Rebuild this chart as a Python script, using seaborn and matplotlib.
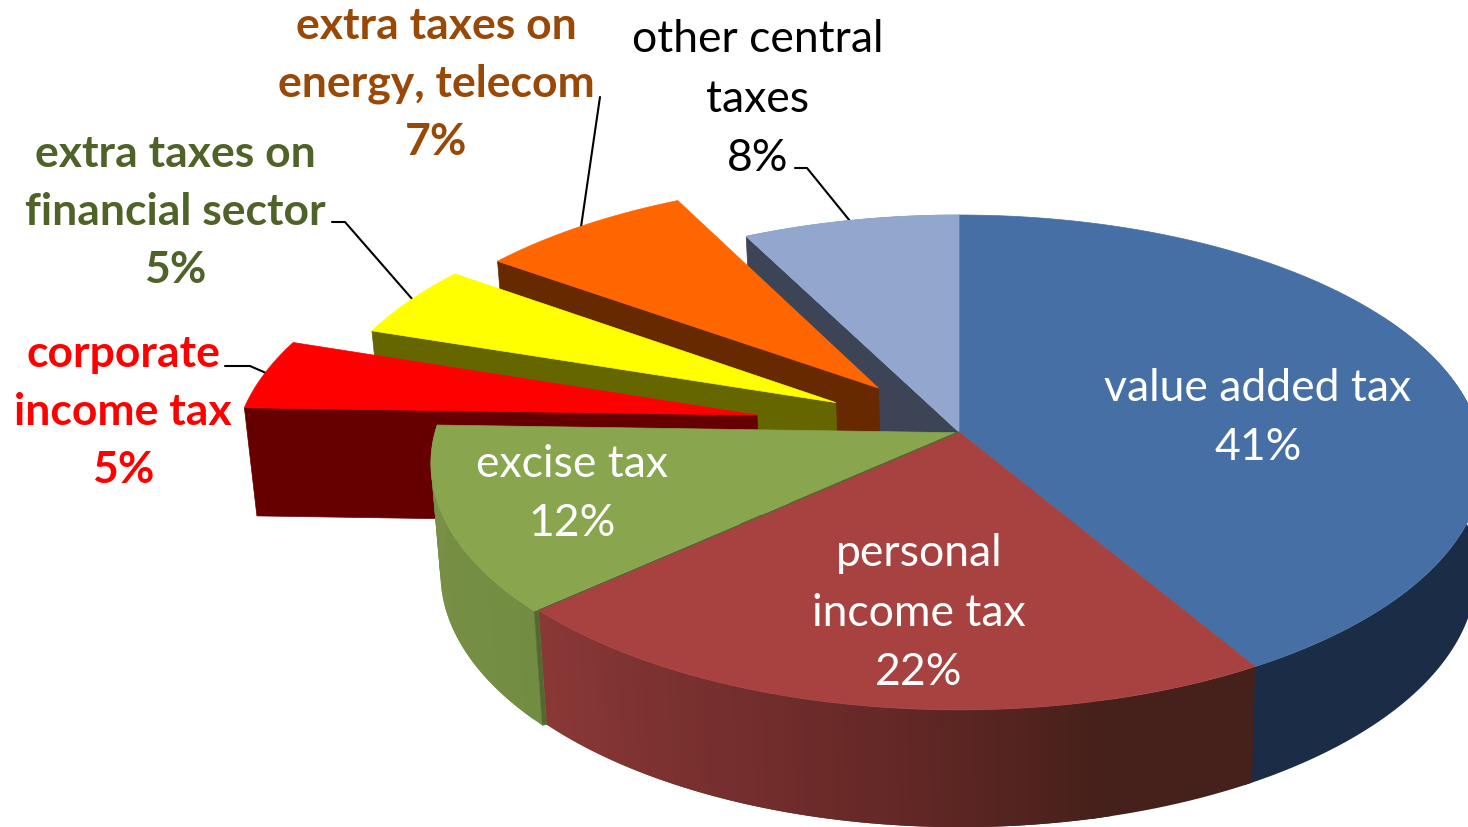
import numpy as np
import seaborn as sns
import matplotlib.pyplot as plt

# shares, clockwise from 12 o'clock
categories = ['value added tax', 'personal\nincome tax', 'excise tax', 'corporate\nincome tax',
              'extra taxes on\nfinancial sector', 'extra taxes on\nenergy, telecom', 'other central\ntaxes']
shares = [41.5, 21.8, 12.2, 4.6, 4.8, 7.6, 7.5]
pct_labels = ['41%', '22%', '12%', '5%', '5%', '7%', '8%']
explode = [0, 0, 0.008, 0.398, 0.27, 0.243, 0]

top_colors = ['#4670A5', '#A74240', '#89A54E', '#FF0000', '#FFFF00', '#FF6600', '#93A6CE']
face_colors = ['#1B2D46', '#46201A', '#768F46', '#660000', '#666600', '#662900', '#3C4455']
text_colors = ['white', 'white', 'white', '#FF0000', '#4F6228', '#984807', 'black']
text_bold = [False, False, False, True, True, True, False]
text_pos = [(1258, 418), (919, 613), (572, 494), (123, 412), (175, 212), (436, 84), (758, 99)]

leaders = [([795, 807, 850], [168, 168, 221]),
           ([600, 581], [97, 227]),
           ([332, 345, 413], [222, 222, 300]),
           ([225, 250, 266], [366, 366, 373])]

# pie placement in pixels
CX, CY, RX, RY, K = 959, 432, 520, 243.7, 0.123
XV, SHRINK, D0, D1 = 1058, 0.0154, 96, 0.03

sns.set_theme(style='white')
plt.rcParams['font.family'] = ['Lato', 'DejaVu Sans']


def project(u, v):
    w = 1 - K * v
    return CX + RX * u / w, CY + RY * v / w


def drop(x, y):
    return x + (XV - x) * SHRINK, y + D0 + D1 * y


def rim(a0, a1, off=(0, 0), n=120):
    t = np.radians(np.linspace(a0, a1, n))
    return project(np.cos(t) + off[0], np.sin(t) + off[1])


def wall(ax, a0, a1, colors, z, off=(0, 0)):
    # outer wall as strips that overlap the next one, so no seams show
    edges = np.linspace(a0, a1, len(colors) + 1)
    n = max(4, 120 // len(colors))
    for i, c in enumerate(colors):
        x, y = rim(edges[i], edges[min(i + 2, len(colors))], off, n=n)
        bx, by = drop(x, y)
        ax.fill(np.r_[x, bx[::-1]], np.r_[y, by[::-1]], color=c, lw=0, zorder=z)


def offset(i):
    return explode[i] * np.cos(mid[i]), explode[i] * np.sin(mid[i])


edges = -90 + 3.6 * np.r_[0, np.cumsum(shares)]
mid = np.radians((edges[:-1] + edges[1:]) / 2)

fig = plt.figure(figsize=(14.68, 8.27), dpi=100)
ax = fig.add_axes([0, 0, 1, 1])
ax.set_xlim(0, 1468)
ax.set_ylim(827, 0)
ax.axis('off')

for lx, ly in leaders:
    ax.plot(lx, ly, color='black', lw=1.5, zorder=1)

# back slices first, then the front of the pie
for z, i in enumerate([6, 5, 4, 3]):
    off = offset(i)
    ax0, ay0 = project(off[0], off[1])
    x, y = rim(edges[i], edges[i + 1], off)
    bx, by = drop(x[0], y[0])
    bax, bay = drop(ax0, ay0)
    ax.fill([ax0, x[0], bx, bax], [ay0, y[0], by, bay], color=face_colors[i], lw=0.5, zorder=2 + 2 * z)
    ax.fill(np.r_[ax0, x], np.r_[ay0, y], color=top_colors[i], lw=0.5, zorder=3 + 2 * z)

excise_off = offset(2)
wall(ax, -30, edges[1] + 1, [face_colors[0]], 12)
wall(ax, edges[1], 77, [face_colors[1]], 12)
wall(ax, 75, edges[2], sns.blend_palette(['#46201A', '#642826', '#78302F', '#8A3836'], 60), 12)
wall(ax, edges[2], edges[3], sns.blend_palette(['#728D42', '#7A9046'], 30), 12, excise_off)

# dark sliver where excise meets personal income tax
x0, y0 = rim(edges[2], edges[2], excise_off, n=1)
x1, y1 = rim(edges[2], edges[2], n=1)
bx0, by0 = drop(x0, y0)
bx1, by1 = drop(x1, y1)
ax.fill(np.r_[x0, bx0, bx1, x1], np.r_[y0, by0, by1, y1], color='#55692F', lw=0.5, zorder=13)

for i in [0, 1, 6]:
    x, y = rim(edges[i], edges[i + 1])
    ax.fill(np.r_[CX, x], np.r_[CY, y], color=top_colors[i], lw=0.5, zorder=15)
ox, oy = project(*excise_off)
x, y = rim(edges[2], edges[3], excise_off)
ax.fill(np.r_[ox, x], np.r_[oy, y], color=top_colors[2], lw=0.5, zorder=14)
ax.plot(np.r_[CX, x1], np.r_[CY, y1], color='#55692F', lw=1, zorder=16)

for i in range(len(categories)):
    ax.text(text_pos[i][0], text_pos[i][1], categories[i] + '\n' + pct_labels[i],
            color=text_colors[i], fontsize=32, linespacing=1.55, ha='center', va='center',
            fontweight='bold' if text_bold[i] else 'normal', zorder=20)

fig.savefig('out.png', dpi=100)
